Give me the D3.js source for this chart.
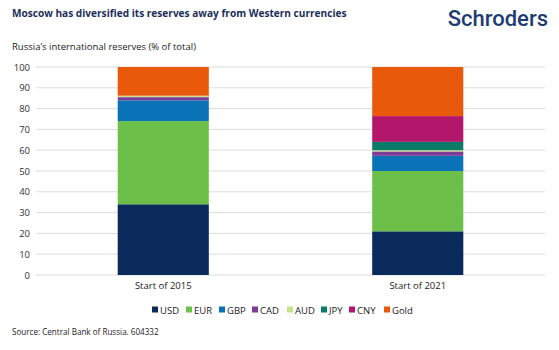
<!DOCTYPE html>
<html>
<head>
<meta charset="utf-8">
<script src="https://cdn.jsdelivr.net/npm/d3@7"></script>
<style>
  body { margin: 0; background: #fff; }
  text { font-family: "Open Sans", "Noto Sans", sans-serif; }
</style>
</head>
<body>
<div id="chart"></div>
<script>
// data
var categories = ["Start of 2015", "Start of 2021"]
var seriesNames = ["USD", "EUR", "GBP", "CAD", "AUD", "JPY", "CNY", "Gold"]
var usd  = [34, 21]
var eur  = [40, 29]
var gbp  = [10, 7.3]
var cad  = [1.5, 2.1]
var aud  = [0.7, 0.6]
var jpy  = [0, 4]
var cny  = [0, 12.4]
var gold = [13.8, 23.6]
var yTicks = [0, 10, 20, 30, 40, 50, 60, 70, 80, 90, 100]

var colors = ["#0b2a5c", "#6cc04a", "#0a72b6", "#7d3c98", "#c6e08c", "#0a7b68", "#b3176c", "#e8590c"]

var width = 559, height = 350

var svg = d3.select("#chart").append("svg")
    .attr("width", width)
    .attr("height", height)

// table for stacking
var seriesValues = [usd, eur, gbp, cad, aud, jpy, cny, gold]
var table = categories.map(function(c, i) {
    var row = {cat: c}
    seriesNames.forEach(function(s, j) { row[s] = seriesValues[j][i] })
    return row
})
var stacked = d3.stack().keys(seriesNames)(table)

var x = d3.scaleBand()
    .domain(categories)
    .range([36, 545])
    .paddingInner(0.642)
    .paddingOuter(0.321)

var y = d3.scaleLinear()
    .domain([0, 100])
    .range([275, 67])

// title etc
svg.append("text")
    .attr("x", 12).attr("y", 17)
    .attr("font-size", 10.1).attr("font-weight", "bold")
    .attr("fill", "#1c2f5a")
    .text("Moscow has diversified its reserves away from Western currencies")

svg.append("text")
    .attr("x", 548).attr("y", 26)
    .attr("text-anchor", "end")
    .attr("font-size", 22).attr("font-weight", 500)
    .attr("fill", "#1d3d72")
    .style("font-family", "Roboto, 'Open Sans', sans-serif")
    .text("Schroders")

svg.append("text")
    .attr("x", 12).attr("y", 50)
    .attr("font-size", 9.5)
    .attr("fill", "#222")
    .text("Russia\u2019s international reserves (% of total)")

// gridlines
svg.append("g")
    .selectAll("line")
    .data(yTicks)
    .enter()
    .append("line")
    .attr("x1", 36).attr("x2", 545)
    .attr("y1", function(d) { return y(d) })
    .attr("y2", function(d) { return y(d) })
    .attr("stroke", "#dcdcdc")
    .attr("stroke-width", 1)

// y axis labels
var yAxis = svg.append("g")
    .attr("transform", "translate(30,0)")
    .call(d3.axisLeft(y).tickValues(yTicks).tickSize(0).tickPadding(0))
yAxis.select(".domain").remove()
yAxis.selectAll("text")
    .attr("font-size", 9.5)
    .attr("fill", "#333")
    .style("font-family", "'Open Sans', sans-serif")

// bars
svg.append("g")
    .selectAll("g")
    .data(stacked)
    .enter()
    .append("g")
    .attr("fill", function(d, i) { return colors[i] })
    .selectAll("rect")
    .data(function(d) { return d })
    .enter()
    .append("rect")
    .attr("x", function(d) { return x(d.data.cat) })
    .attr("y", function(d) { return y(d[1]) })
    .attr("width", x.bandwidth())
    .attr("height", function(d) { return y(d[0]) - y(d[1]) })

// x labels
var xAxis = svg.append("g")
    .attr("transform", "translate(0,282)")
    .call(d3.axisBottom(x).tickSize(0).tickPadding(0))
xAxis.select(".domain").remove()
xAxis.selectAll("text")
    .attr("font-size", 9.5)
    .attr("fill", "#222")
    .attr("dy", "0.71em")
    .style("font-family", "'Open Sans', sans-serif")

// legend
var legX = [152, 186, 219, 252, 287, 321, 349, 384]
var legend = svg.append("g")
    .selectAll("g")
    .data(seriesNames)
    .enter()
    .append("g")
    .attr("transform", function(d, i) { return "translate(" + legX[i] + ",310)" })
legend.append("rect")
    .attr("x", 0).attr("y", -3.5)
    .attr("width", 6).attr("height", 6)
    .attr("fill", function(d, i) { return colors[i] })
legend.append("text")
    .attr("x", 8).attr("y", 3.5)
    .attr("font-size", 9.5)
    .attr("fill", "#222")
    .text(function(d) { return d })

svg.append("text")
    .attr("x", 12).attr("y", 335)
    .attr("font-size", 8.1)
    .attr("fill", "#222")
    .text("Source: Central Bank of Russia. 604332")
</script>
</body>
</html>
